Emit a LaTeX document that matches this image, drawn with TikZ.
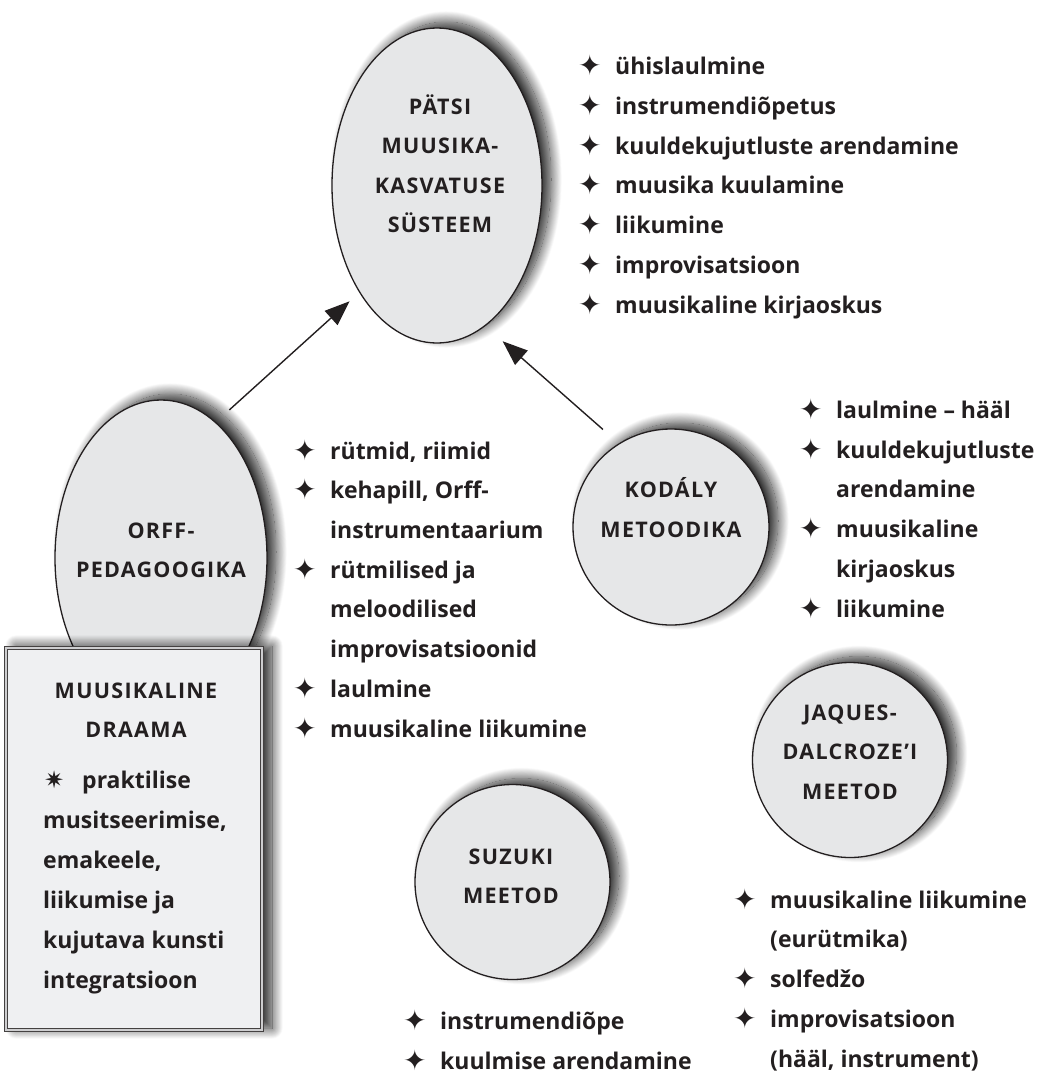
\documentclass[tikz,border=0pt]{standalone}
\usepackage{fontspec}
\setmainfont{Open Sans}
\newfontfamily\headfont[LetterSpace=6]{Open Sans}
\newfontfamily\glyphfont{DejaVu Sans}
\usetikzlibrary{shapes.geometric,shadows.blur,arrows.meta}

\definecolor{ink}{HTML}{231F20}
\definecolor{bubblefill}{HTML}{E6E7E8}
\definecolor{panelfill}{HTML}{EFF0F2}

% bullet and continuation indent for the lists
\newcommand\itm{\makebox[37pt][l]{\raisebox{-1pt}{\glyphfont\fontsize{28}{28}\selectfont ✦}}}
\newcommand\cnt{\hspace*{37pt}}

\tikzset{
  softshadow/.style={blur shadow={shadow xshift=9pt, shadow yshift=6pt,
      shadow blur radius=11pt, shadow blur steps=24, shadow opacity=85}},
  bubble/.style={draw=ink, line width=1.3pt, fill=bubblefill, softshadow, inner sep=0pt},
  oval/.style={bubble, ellipse, minimum width=210pt, minimum height=315pt},
  disc/.style={bubble, circle, minimum size=196pt},
  panel/.style={draw=ink!85, line width=1pt, double=panelfill!70!gray, double distance=2pt,
      fill=panelfill, rectangle, inner sep=0pt,
      blur shadow={shadow xshift=10pt, shadow yshift=2pt, shadow blur radius=11pt,
        shadow blur steps=24, shadow opacity=85}},
  % multi-line texts are placed by the baseline of their last line
  heading/.style={text=ink, inner sep=0pt, anchor=base, align=center,
      font=\headfont\bfseries\fontsize{21.5}{39.5}\selectfont},
  itemlist/.style={text=ink, inner sep=0pt, anchor=base west, align=left,
      font=\bfseries\fontsize{23}{39.7}\selectfont},
  link/.style={draw=ink, line width=1.4pt, -{Triangle[length=25pt,width=19pt]}},
}

\begin{document}
\begin{tikzpicture}[x=1pt,y=-1pt]
  \useasboundingbox (0,0) rectangle (1044,1077);

  % main system and the four methods
  \node[oval] (patsi) at (437,185.5) {};
  \node[oval, minimum width=212pt, minimum height=316pt] (orff) at (161,558) {};
  \node[disc] (kodaly) at (671,527) {};
  \node[disc, minimum size=195pt] (jaques) at (850,760) {};
  \node[disc, minimum size=195pt] (suzuki) at (512.5,882) {};
  \node[panel, minimum width=256pt, minimum height=382pt] (drama) at (134,839) {};

  % headings
  \node[heading] (patsiT) at (440,232.5) {PÄTSI\\MUUSIKA-\\KASVATUSE\\SÜSTEEM};
  \node[heading] (orffT) at (161,577.5) {ORFF-\\PEDAGOOGIKA};
  \node[heading] (kodalyT) at (671,537) {KODÁLY\\METOODIKA};
  \node[heading] (jaquesT) at (850,799) {JAQUES-\\DALCROZE’I\\MEETOD};
  \node[heading] (suzukiT) at (511,903.5) {SUZUKI\\MEETOD};
  \node[heading] (dramaT) at (136,737.5) {MUUSIKALINE\\DRAAMA};

  % influences
  \draw[link, shorten <=18pt, shorten >=13pt] (orff.68.5) -- (patsi.234.5);
  \draw[link, shorten <=21pt, shorten >=23pt] (kodaly.122.3) -- (patsi.289.3);

  % lists of activities
  \node[itemlist] (patsiL) at (578,313) {\itm ühislaulmine\\
    \itm instrumendiõpetus\\
    \itm kuuldekujutluste arendamine\\
    \itm muusika kuulamine\\
    \itm liikumine\\
    \itm improvisatsioon\\
    \itm muusikaline kirjaoskus};
  \node[itemlist] (orffL) at (293,737) {\itm rütmid, riimid\\
    \itm kehapill, Orff-\\
    \cnt instrumentaarium\\
    \itm rütmilised ja\\
    \cnt meloodilised\\
    \cnt improvisatsioonid\\
    \itm laulmine\\
    \itm muusikaline liikumine};
  \node[itemlist] (kodalyL) at (799,617) {\itm laulmine – hääl\\
    \itm kuuldekujutluste\\
    \cnt arendamine\\
    \itm muusikaline\\
    \cnt kirjaoskus\\
    \itm liikumine};
  \node[itemlist] (jaquesL) at (733,1067) {\itm muusikaline liikumine\\
    \cnt (eurütmika)\\
    \itm solfedžo\\
    \itm improvisatsioon\\
    \cnt (hääl, instrument)};
  \node[itemlist] (suzukiL) at (403,1069) {\itm instrumendiõpe\\
    \itm kuulmise arendamine};
  \node[itemlist, font=\bfseries\fontsize{23}{40}\selectfont] (dramaL) at (43,988)
    {\makebox[39pt][l]{\hspace*{1pt}\glyphfont\fontsize{24}{24}\selectfont ✷}praktilise\\
    musitseerimise,\\
    emakeele,\\
    liikumise ja\\
    kujutava kunsti\\
    integratsioon};
\end{tikzpicture}
\end{document}
